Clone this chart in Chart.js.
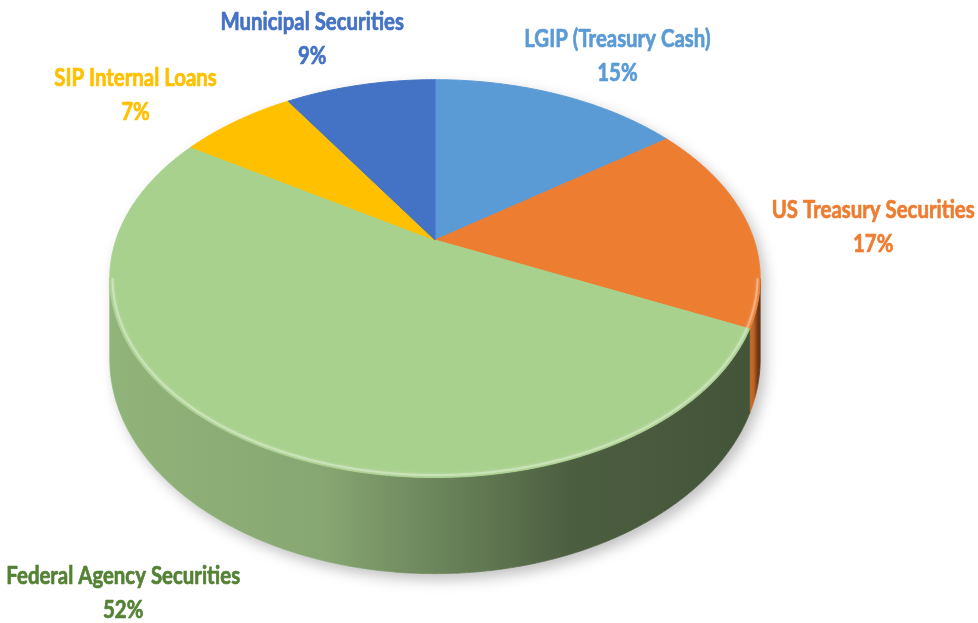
<!DOCTYPE html>
<html lang="en">
<head>
<meta charset="UTF-8">
<title>Portfolio Allocation</title>
<script src="https://cdn.jsdelivr.net/npm/chart.js"></script>
<style>
  html, body { margin: 0; padding: 0; background: #fff; }
  .chart-box { width: 978px; height: 623px; }
</style>
</head>
<body>
<div class="chart-box"><canvas id="allocationChart"></canvas></div>
<script>
// Portfolio mix by investment type, percent of total
const categories = ['LGIP (Treasury Cash)', 'US Treasury Securities', 'Federal Agency Securities', 'SIP Internal Loans', 'Municipal Securities'];
const shares = [15, 17, 52, 7, 9];
const sliceColors = ['#5B9BD5', '#ED7D31', '#A9D18E', '#FFC000', '#4472C4'];
const labelColors = ['#5B9BD5', '#ED7D31', '#548235', '#FFC000', '#4472C4'];

// look of the tilted disc
const TILT = 0.6;        // vertical squash of the top face
const PERSP = 0.194;     // front rim drawn bigger than the back rim
const DEPTH = 0.243;     // wall height as a fraction of the radius
const LABEL_GAP = 18;
const LINE_GAP = 34;
const TEXT_SQUEEZE = 0.85;
const labelShift = [[-13, 1], [7, 8], [-55, 14], [-16, 1], [0, 1]];

function shade(hex, f) {
    const n = parseInt(hex.slice(1), 16);
    const r = (n >> 16) & 255, g = (n >> 8) & 255, b = n & 255;
    return `rgb(${Math.round(r * f)},${Math.round(g * f)},${Math.round(b * f)})`;
}
function tint(hex, f) {
    const n = parseInt(hex.slice(1), 16);
    const r = (n >> 16) & 255, g = (n >> 8) & 255, b = n & 255;
    const m = c => Math.round(c + (255 - c) * f);
    return `rgb(${m(r)},${m(g)},${m(b)})`;
}

// draws the pie as a tilted 3D disc, using the angles Chart.js worked out
const pie3d = {
    id: 'pie3d',
    beforeDatasetsDraw(chart) {
        const ctx = chart.ctx;
        const arcs = chart.getDatasetMeta(0).data;
        const cx = arcs[0].x, cy = arcs[0].y, R = arcs[0].outerRadius;

        const project = (ang, r, drop) => {
            const u = Math.cos(ang) * r, v = Math.sin(ang) * r;
            const w = 1 - PERSP * v;
            return { x: cx + R * u / w, y: cy + R * TILT * v / w + (drop ? R * DEPTH / w : 0) };
        };
        const arcPts = (a0, a1, r, drop) => {
            const n = Math.max(2, Math.ceil(Math.abs(a1 - a0) / 0.01));
            const pts = [];
            for (let i = 0; i <= n; i++) pts.push(project(a0 + (a1 - a0) * i / n, r, drop));
            return pts;
        };
        const trace = pts => pts.forEach((p, i) => i ? ctx.lineTo(p.x, p.y) : ctx.moveTo(p.x, p.y));

        const front0 = Math.asin(PERSP), front1 = Math.PI - front0;

        // soft shadow under the whole disc
        ctx.save();
        ctx.beginPath();
        trace([...arcPts(front1, front0 + 2 * Math.PI, 1, false), ...arcPts(front0, front1, 1, true)]);
        ctx.closePath();
        ctx.shadowColor = 'rgba(0,0,0,0.25)';
        ctx.shadowBlur = 14;
        ctx.shadowOffsetX = 5;
        ctx.shadowOffsetY = 6;
        ctx.fillStyle = '#fff';
        ctx.fill();
        ctx.restore();

        // side walls of the slices facing the viewer
        const walls = [];
        arcs.forEach((arc, i) => {
            const lo = Math.max(arc.startAngle, front0), hi = Math.min(arc.endAngle, front1);
            if (hi <= lo) return;
            const color = sliceColors[i];
            const top = arcPts(lo, hi, 1, false);
            const xs = top.map(p => p.x);
            const x0 = Math.min(...xs), x1 = Math.max(...xs);
            const g = ctx.createLinearGradient(x0, 0, x1 + 1, 0);
            g.addColorStop(0, shade(color, 0.86));
            g.addColorStop(0.33, shade(color, 0.8));
            g.addColorStop(0.72, shade(color, 0.45));
            g.addColorStop(1, shade(color, 0.4));
            ctx.beginPath();
            trace([...top, ...arcPts(hi, lo, 1, true)]);
            ctx.closePath();
            ctx.fillStyle = g;
            ctx.fill();
            ctx.strokeStyle = g;
            ctx.lineWidth = 0.8;
            ctx.stroke();
            walls.push({ lo, hi, color });
        });

        // top faces
        arcs.forEach(arc => {
            const color = arc.options.backgroundColor;
            ctx.beginPath();
            ctx.moveTo(cx, cy);
            trace(arcPts(arc.startAngle, arc.endAngle, 1, false));
            ctx.lineTo(cx, cy);
            ctx.closePath();
            ctx.fillStyle = color;
            ctx.fill();
            ctx.strokeStyle = color;
            ctx.lineWidth = 1;
            ctx.stroke();
        });

        // light bevel along the front rim
        walls.forEach(({ lo, hi, color }) => {
            ctx.save();
            ctx.beginPath();
            trace(arcPts(lo, hi, 0.992, false));
            ctx.strokeStyle = tint(color, 0.4);
            ctx.shadowColor = tint(color, 0.3);
            ctx.shadowBlur = 3;
            ctx.lineWidth = 2;
            ctx.stroke();
            ctx.restore();
        });

        // data labels: name and percent outside each slice
        ctx.save();
        ctx.font = 'bold 24px Lato';
        ctx.textAlign = 'center';
        ctx.textBaseline = 'middle';
        ctx.lineJoin = 'round';
        arcs.forEach((arc, i) => {
            const mid = (arc.startAngle + arc.endAngle) / 2;
            const a = project(mid, 1, Math.sin(mid) > PERSP);
            let dx = a.x - cx, dy = a.y - cy;
            const len = Math.hypot(dx, dy);
            dx /= len; dy /= len;
            const lines = [chart.data.labels[i], chart.data.datasets[0].data[i] + '%'];
            const w = Math.max(...lines.map(t => ctx.measureText(t).width)) * TEXT_SQUEEZE;
            const h = LINE_GAP * 2;
            const x = a.x + dx * (LABEL_GAP + w / 2) + labelShift[i][0];
            const y = a.y + dy * (LABEL_GAP + h / 2) + labelShift[i][1];
            ctx.fillStyle = labelColors[i];
            ctx.strokeStyle = labelColors[i];
            ctx.lineWidth = 0.7;
            lines.forEach((t, k) => {
                ctx.save();
                ctx.translate(x, y + (k - 0.5) * LINE_GAP);
                ctx.scale(TEXT_SQUEEZE, 1);
                ctx.fillText(t, 0, 0);
                ctx.strokeText(t, 0, 0);
                ctx.restore();
            });
        });
        ctx.restore();

        return false;
    }
};

new Chart(document.getElementById('allocationChart'), {
    type: 'pie',
    data: {
        labels: categories,
        datasets: [{
            data: shares,
            backgroundColor: sliceColors,
            borderWidth: 0
        }]
    },
    options: {
        responsive: true,
        maintainAspectRatio: false,
        animation: false,
        radius: 319,
        layout: { padding: { left: 0, right: 108, top: 0, bottom: 143 } },
        plugins: {
            legend: { display: false },
            tooltip: { enabled: false }
        }
    },
    plugins: [pie3d]
});
</script>
</body>
</html>
